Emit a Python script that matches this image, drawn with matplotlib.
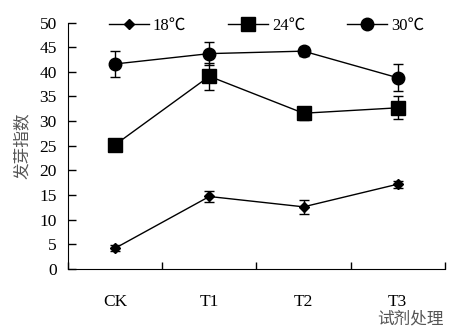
import matplotlib.pyplot as plt
from matplotlib.lines import Line2D
import numpy as np

plt.rcParams['font.family'] = ['Liberation Serif', 'Noto Sans CJK SC']

cats = ["CK", "T1", "T2", "T3"]
labels = ["18℃", "24℃", "30℃"]
vals_18 = [4.2, 14.7, 12.6, 17.2]
err_18 = [0.6, 1.1, 1.4, 0.7]
vals_24 = [25.2, 39.1, 31.6, 32.7]
err_24 = [0.5, 2.7, 1.3, 2.3]
vals_30 = [41.6, 43.7, 44.2, 38.8]
err_30 = [2.7, 2.4, 0.9, 2.7]

fig = plt.figure(figsize=(4.61, 3.32), dpi=100)
ax = fig.add_axes([0.1475, 0.19, 0.8175, 0.742])

x = np.arange(len(cats))
styles = [('D', 5.5), ('s', 10), ('o', 9)]
handles = []
for (m, s), v, e, lab in zip(styles, [vals_18, vals_24, vals_30],
                             [err_18, err_24, err_30], labels):
    ax.errorbar(x, v, yerr=e, color='k', marker=m, ms=s, lw=1,
                capsize=3.5, elinewidth=1)
    handles.append(Line2D([], [], color='k', marker=m, ms=s, lw=1, label=lab))

ax.set_xlim(-0.5, 3.5)
ax.set_ylim(0, 50)
ax.set_yticks(range(0, 51, 5))
ax.set_xticks(np.arange(-0.5, 3.6, 1))
ax.set_xticklabels([])
ax.set_xticks(x, minor=True)
ax.set_xticklabels(cats, minor=True)
ax.tick_params(axis='x', which='major', direction='in', length=5, width=1)
ax.tick_params(axis='x', which='minor', length=0, pad=18, labelsize=12.5)
ax.tick_params(axis='y', direction='in', length=6, width=1, labelsize=12.5, pad=8)
ax.spines['top'].set_visible(False)
ax.spines['right'].set_visible(False)

ax.set_ylabel("发芽指数", fontsize=12, color='#555555',
              family=['Noto Sans CJK SC'], labelpad=6)
fig.text(0.89, 0.04, "试剂处理", fontsize=12, color='#555555',
         family=['Noto Sans CJK SC'], ha='center', va='center')

ax.legend(handles=handles, loc='upper center', bbox_to_anchor=(0.527, 1.065),
          ncol=3, frameon=False, fontsize=12, handlelength=2.4,
          columnspacing=2.5, handletextpad=0.25, borderpad=0.2)

fig.savefig("out.png", dpi=100)
